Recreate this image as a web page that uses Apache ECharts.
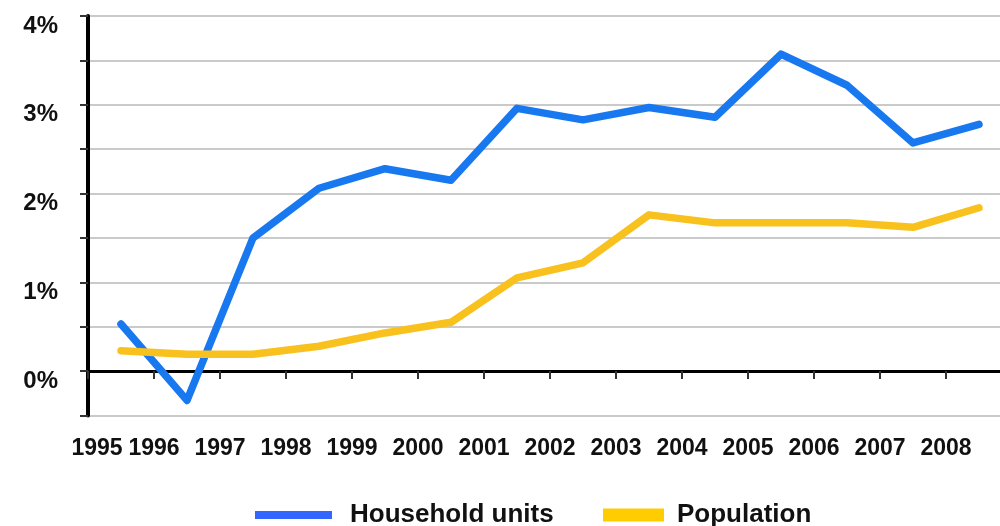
<!DOCTYPE html>
<html>
<head>
<meta charset="utf-8">
<script src="https://cdn.jsdelivr.net/npm/echarts@6/dist/echarts.min.js"></script>
<style>
  html, body { margin: 0; padding: 0; background: #fff; }
  #chart { width: 1000px; height: 526px; }
</style>
</head>
<body>
<div id="chart"></div>
<script>
// yearly growth rates, plotted at mid-year
const years = [1995, 1996, 1997, 1998, 1999, 2000, 2001, 2002, 2003, 2004, 2005, 2006, 2007, 2008];
const householdUnits = [0.53, -0.33, 1.50, 2.06, 2.28, 2.15, 2.96, 2.83, 2.97, 2.86, 3.57, 3.22, 2.57, 2.78];
const population = [0.23, 0.19, 0.19, 0.28, 0.43, 0.55, 1.05, 1.22, 1.76, 1.67, 1.67, 1.67, 1.62, 1.84];
const yTicks = [0, 1, 2, 3, 4];

const font = "'Liberation Sans', Arial, sans-serif";
const chart = echarts.init(document.getElementById("chart"), null, { renderer: "canvas" });

const toPoints = (vals) => vals.map((v, i) => [years[i] + 0.5, v]);

chart.setOption({
  animation: false,
  backgroundColor: "#fff",
  grid: { left: 88, top: 16, width: 924, height: 399.5, containLabel: false, outerBoundsMode: "none" },
  xAxis: [
    {
      type: "value",
      min: 1995,
      max: 2009,
      interval: 1,
      axisLine: { onZero: true, lineStyle: { color: "#000", width: 3 } },
      axisTick: { show: true, length: 8, lineStyle: { color: "#333", width: 2 } },
      axisLabel: { show: false },
      splitLine: { show: false }
    },
    {
      type: "value",
      min: 1995,
      max: 2009,
      interval: 1,
      position: "bottom",
      axisLine: { show: false, onZero: false },
      axisTick: { show: false },
      splitLine: { show: false },
      axisLabel: {
        margin: 22,
        fontFamily: font,
        fontSize: 23,
        fontWeight: "bold",
        color: "#111",
        formatter: (v) => {
          if (v === 1995) return "{first|1995}";
          return years.includes(v) ? String(v) : "";
        },
        rich: {
          first: { fontFamily: font, fontSize: 23, fontWeight: "bold", color: "#111", padding: [0, 0, 0, 18] }
        }
      }
    }
  ],
  yAxis: {
    type: "value",
    min: -0.5,
    max: 4,
    interval: 0.5,
    axisLine: { show: true, lineStyle: { color: "#000", width: 4 } },
    axisTick: { show: true, length: 8, lineStyle: { color: "#333", width: 2 } },
    splitLine: { show: true, lineStyle: { color: "#cacaca", width: 2 } },
    axisLabel: {
      margin: 30,
      fontFamily: font,
      fontSize: 24,
      fontWeight: "bold",
      color: "#111",
      verticalAlign: "top",
      lineHeight: 20,
      formatter: (v) => (yTicks.includes(v) ? v + "%" : "")
    }
  },
  legend: [
    {
      left: 250,
      top: 497,
      itemWidth: 77,
      itemHeight: 8,
      icon: "rect",
      textStyle: { fontFamily: font, fontSize: 26, fontWeight: "bold", color: "#111", padding: [0, 0, 8, 13] },
      data: [{ name: "Household units", itemStyle: { color: "#3366ff" } }]
    },
    {
      left: 598,
      top: 497,
      itemWidth: 61,
      itemHeight: 13,
      icon: "rect",
      textStyle: { fontFamily: font, fontSize: 26, fontWeight: "bold", color: "#111", padding: [0, 0, 8, 8] },
      data: [{ name: "Population", itemStyle: { color: "#ffcc00" } }]
    }
  ],
  series: [
    {
      name: "Household units",
      type: "line",
      xAxisIndex: 0,
      data: toPoints(householdUnits),
      showSymbol: false,
      lineStyle: { color: "#1878f0", width: 7.5, join: "round", cap: "round" },
      itemStyle: { color: "#1878f0" }
    },
    {
      name: "Population",
      type: "line",
      xAxisIndex: 0,
      data: toPoints(population),
      showSymbol: false,
      lineStyle: { color: "#f9c11e", width: 7.5, join: "round", cap: "round" },
      itemStyle: { color: "#f9c11e" }
    }
  ]
});
</script>
</body>
</html>
